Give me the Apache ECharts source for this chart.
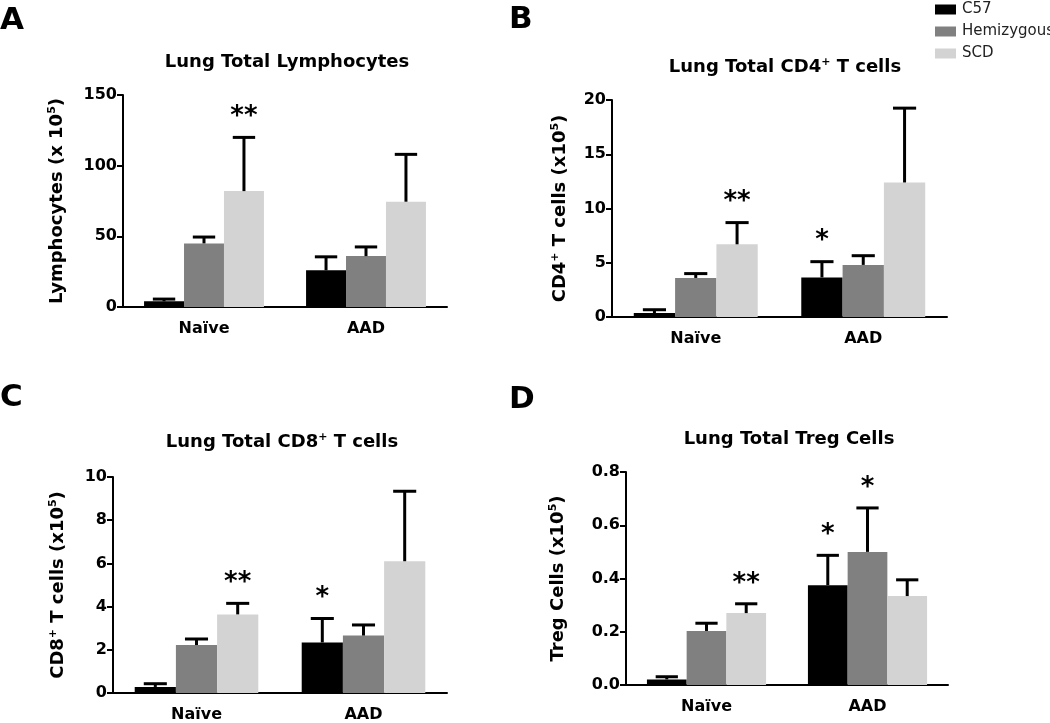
<!DOCTYPE html>
<html lang="en">
<head>
    <meta charset="UTF-8">
    <title>Lung lymphocyte panels</title>
    <script src="https://cdn.jsdelivr.net/npm/echarts@6/dist/echarts.min.js"></script>
    <style>
        html, body { margin: 0; padding: 0; background: #fff; }
    </style>
</head>
<body>
    <div id="main" style="width: 1050px; height: 723px;"></div>
    <script>
        // categories and groups
        var groups = ['Naïve', 'AAD'];
        var strains = ['C57', 'Hemizygous', 'SCD'];
        var colors = ['#000000', '#808080', '#d3d3d3'];

        // each row is a strain, each column a group [Naïve, AAD]
        var lymphMean = [[4, 26], [45, 36], [82, 74.5]];
        var lymphSem = [[1.6, 9.5], [4.5, 6.5], [38, 33.5]];
        var lymphStars = [['', ''], ['', ''], ['**', '']];

        var cd4Mean = [[0.37, 3.65], [3.6, 4.8], [6.7, 12.4]];
        var cd4Sem = [[0.3, 1.45], [0.4, 0.85], [2.0, 6.85]];
        var cd4Stars = [['', '*'], ['', ''], ['**', '']];

        var cd8Mean = [[0.28, 2.34], [2.22, 2.66], [3.64, 6.1]];
        var cd8Sem = [[0.15, 1.11], [0.28, 0.49], [0.51, 3.24]];
        var cd8Stars = [['', '*'], ['', ''], ['**', '']];

        var tregMean = [[0.021, 0.375], [0.203, 0.5], [0.27, 0.334]];
        var tregSem = [[0.01, 0.112], [0.029, 0.165], [0.035, 0.061]];
        var tregStars = [['', '*'], ['', '*'], ['**', '']];

        // y axis ranges
        var yMax = [150, 20, 10, 0.8];
        var yStep = [50, 5, 2, 0.2];

        var FONT = '"DejaVu Sans", sans-serif';
        var GAP = 0.26;

        var panels = [
            { letter: 'A', title: '{t|Lung Total Lymphocytes}', yName: '{t|Lymphocytes (x 10}{s|5}{t|)}',
              mean: lymphMean, sem: lymphSem, stars: lymphStars,
              grid: { left: 123, top: 95, width: 324, height: 212 }, titleAt: [287, 52], letterAt: [0, 5], nameGap: 56 },
            { letter: 'B', title: '{t|Lung Total CD4}{s|+}{t| T cells}', yName: '{t|CD4}{s|+}{t| T cells (x10}{s|5}{t|)}',
              mean: cd4Mean, sem: cd4Sem, stars: cd4Stars,
              grid: { left: 612, top: 100, width: 335, height: 217 }, titleAt: [785, 57], letterAt: [509, 4], nameGap: 42 },
            { letter: 'C', title: '{t|Lung Total CD8}{s|+}{t| T cells}', yName: '{t|CD8}{s|+}{t| T cells (x10}{s|5}{t|)}',
              mean: cd8Mean, sem: cd8Sem, stars: cd8Stars,
              grid: { left: 113, top: 477, width: 334, height: 217 }, titleAt: [282, 432], letterAt: [0, 382], nameGap: 45 },
            { letter: 'D', title: '{t|Lung Total Treg Cells}', yName: '{t|Treg Cells (x10}{s|5}{t|)}',
              mean: tregMean, sem: tregSem, stars: tregStars,
              grid: { left: 626, top: 472, width: 322, height: 213 }, titleAt: [789, 429], letterAt: [509, 384], nameGap: 58 }
        ];

        var rich = {
            t: { fontFamily: FONT, fontSize: 18, fontWeight: 'bold', color: '#000', lineHeight: 20 },
            s: { fontFamily: FONT, fontSize: 11, fontWeight: 'bold', color: '#000', lineHeight: 12, verticalAlign: 'top' }
        };

        // error bar (upper SEM only) plus significance stars
        function makeErrorRenderer(starList) {
            return function (params, api) {
                var cat = api.value(0);
                var k = api.value(1);
                var mean = api.value(2);
                var sem = api.value(3);
                var star = starList[params.dataIndex];
                var band = api.size([1, 0])[0];
                var barW = band * (1 - GAP) / 3;
                var cx = api.coord([cat, 0])[0] + (k - 1) * barW;
                var yMean = api.coord([cat, mean])[1];
                var yTop = api.coord([cat, mean + sem])[1];
                var half = barW * 0.28;
                var children = [
                    { type: 'line', shape: { x1: cx, y1: yMean, x2: cx, y2: yTop }, style: { stroke: '#000', lineWidth: 3 } },
                    { type: 'line', shape: { x1: cx - half, y1: yTop, x2: cx + half, y2: yTop }, style: { stroke: '#000', lineWidth: 3 } }
                ];
                if (star) {
                    children.push({
                        type: 'text',
                        style: {
                            text: star, x: cx, y: yTop - 20,
                            textAlign: 'center', textVerticalAlign: 'middle',
                            font: 'bold 26px ' + FONT, fill: '#000'
                        }
                    });
                }
                return { type: 'group', children: children };
            };
        }

        var grid = [], xAxis = [], yAxis = [], series = [], title = [], graphic = [];

        panels.forEach(function (p, i) {
            grid.push(p.grid);
            title.push({
                text: p.title, left: p.titleAt[0], top: p.titleAt[1], textAlign: 'center',
                padding: 0, textStyle: { rich: rich }
            });
            graphic.push({
                type: 'text', left: p.letterAt[0], top: p.letterAt[1],
                style: { text: p.letter, font: 'bold 31px ' + FONT, fill: '#000' }
            });
            xAxis.push({
                type: 'category', gridIndex: i, data: groups,
                axisLine: { lineStyle: { color: '#000', width: 2 } },
                axisTick: { alignWithLabel: true, length: 7, lineStyle: { color: '#000', width: 2 } },
                axisLabel: { color: '#000', fontFamily: FONT, fontSize: 16, fontWeight: 'bold', margin: 14 }
            });
            yAxis.push({
                type: 'value', gridIndex: i, min: 0, max: yMax[i], interval: yStep[i],
                name: p.yName, nameLocation: 'middle', nameRotate: 90, nameGap: p.nameGap,
                nameTextStyle: { rich: rich },
                axisLine: { show: true, lineStyle: { color: '#000', width: 2 } },
                axisTick: { show: true, length: 6, lineStyle: { color: '#000', width: 2 } },
                splitLine: { show: false },
                axisLabel: {
                    color: '#000', fontFamily: FONT, fontSize: 16, fontWeight: 'bold', margin: 6,
                    formatter: i === 3 ? function (v) { return v.toFixed(1); } : null
                }
            });
            var errData = [], starList = [];
            strains.forEach(function (s, k) {
                series.push({
                    name: s, type: 'bar', xAxisIndex: i, yAxisIndex: i,
                    data: p.mean[k], barGap: '0%', barCategoryGap: (GAP * 100) + '%',
                    itemStyle: { color: colors[k] }
                });
                for (var g = 0; g < groups.length; g++) {
                    errData.push([g, k, p.mean[k][g], p.sem[k][g]]);
                    starList.push(p.stars[k][g]);
                }
            });
            series.push({
                type: 'custom', xAxisIndex: i, yAxisIndex: i, clip: false, z: 3,
                encode: { x: 0, y: 2 },
                renderItem: makeErrorRenderer(starList), data: errData
            });
        });

        var myChart = echarts.init(document.getElementById('main'));
        myChart.setOption({
            backgroundColor: '#fff',
            animation: false,
            title: title,
            legend: {
                data: strains, orient: 'vertical', left: 930, top: -3,
                itemWidth: 21, itemHeight: 10, itemGap: 7,
                icon: 'rect',
                textStyle: { fontFamily: FONT, fontSize: 15, color: '#222', padding: [0, 0, 0, 1] }
            },
            grid: grid,
            xAxis: xAxis,
            yAxis: yAxis,
            series: series,
            graphic: graphic
        });
    </script>
</body>
</html>
